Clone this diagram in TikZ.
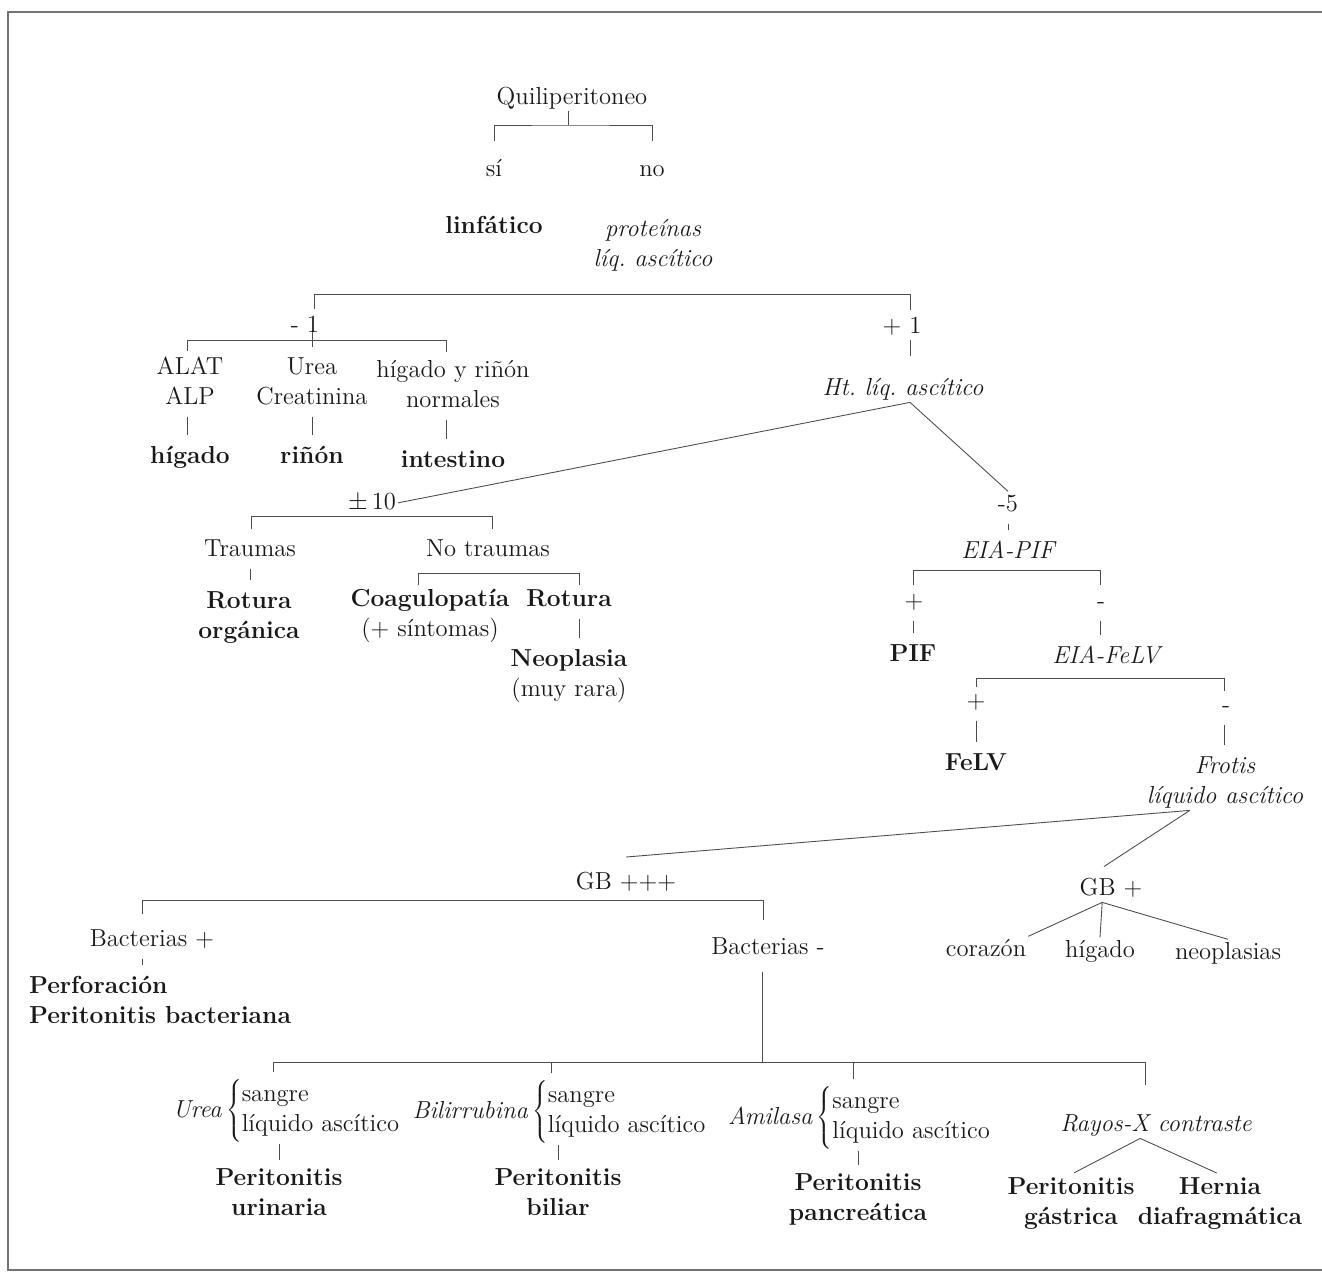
\documentclass[tikz,border=0pt]{standalone}
\usepackage{tikz}

\tikzset{
  txt/.style={anchor=base, inner sep=1pt, align=center, text=black!90,
    font=\fontsize{14}{17}\selectfont\frenchspacing},
  una/.style={text height=10pt, text depth=3pt},
  dos/.style={text height=27pt, text depth=3pt},
  nor/.style={txt, una},
  res/.style={txt, una, font=\fontsize{14}{17}\selectfont\bfseries},
  prb/.style={txt, una, font=\fontsize{14}{17}\selectfont\frenchspacing\itshape},
  rama/.style={draw=black!70, line width=0.5pt},
  tick/.style={rama, shorten <=3pt, shorten >=5pt},
}

\begin{document}
\begin{tikzpicture}[x=0.02cm, y=-0.02cm]
\useasboundingbox (0,0) rectangle (1322,1281);
% marco
\draw[black!55, line width=0.9pt] (1322,12) -- (8,12) -- (8,1270) -- (1322,1270);

% nodos
\node[nor] (q) at (572,104) {Quiliperitoneo};
\node[nor] (si) at (494,176) {sí};
\node[nor] (no) at (652,176) {no};
\node[res] (linf) at (494,233) {linfático};
\node[prb, dos] (prot) at (653,266) {proteínas\\líq. ascítico};
\node[nor] (m1) at (305,332) {- 1};
\node[nor] (p1) at (902,333) {+ 1};
\node[nor, dos] (alat) at (190,404) {ALAT\\ALP};
\node[nor, dos] (urea) at (312,404) {Urea\\Creatinina};
\node[nor, dos] (norm) at (453,407) {hígado y riñón\\normales};
\node[res] (hig) at (190,463) {hígado};
\node[res] (rin) at (312,463) {riñón};
\node[res] (inte) at (453,467) {intestino};
\node[prb] (ht) at (903,395) {Ht. líq. ascítico};
\node[nor] (pm10) at (372,509) {$\pm$\,10};
\node[nor] (m5) at (1008,511) {-5};
\node[nor] (trau) at (250,556) {Traumas};
\node[nor] (notr) at (488,556) {No traumas};
\node[res, dos] (rotorg) at (249,638) {Rotura\\orgánica};
\node[nor, dos] (coag) at (430,636) {\textbf{Coagulopatía}\\(+ síntomas)};
\node[res] (rot) at (569,606) {Rotura};
\node[nor, dos] (neo) at (569,696) {\textbf{Neoplasia}\\(muy rara)};
\node[prb] (eiapif) at (1008,558) {EIA-PIF};
\node[nor] (pos1) at (914,608) {+};
\node[nor] (neg1) at (1101,608) {-};
\node[res] (pif) at (913,661) {PIF};
\node[prb] (eiafelv) at (1106,663) {EIA-FeLV};
\node[nor] (pos2) at (976,708) {+};
\node[nor] (neg2) at (1226,712) {-};
\node[res] (felv) at (976,770) {FeLV};
\node[prb, dos] (frot) at (1225,803) {Frotis\\líquido ascítico};
\node[nor] (gb3) at (626,889) {GB +++};
\node[nor] (gb1) at (1111,895) {GB +};
\node[nor] (bacp) at (152,946) {Bacterias +};
\node[nor] (bacm) at (768,954) {Bacterias -};
\node[res, dos, anchor=base west, align=left] (perf) at (27,1023) {Perforación\\Peritonitis bacteriana};
\node[nor] (cor) at (986,956) {corazón};
\node[nor] (hig2) at (1100,957) {hígado};
\node[nor] (neop) at (1228,959) {neoplasias};
\node[txt] (urea2) at (287,1117) {\textit{Urea}\,$\left\{\begin{tabular}{@{}l@{}}sangre\\líquido ascítico\end{tabular}\right.$};
\node[txt] (bil) at (560,1118) {\textit{Bilirrubina}\,$\left\{\begin{tabular}{@{}l@{}}sangre\\líquido ascítico\end{tabular}\right.$};
\node[txt] (ami) at (860,1124) {\textit{Amilasa}\,$\left\{\begin{tabular}{@{}l@{}}sangre\\líquido ascítico\end{tabular}\right.$};
\node[res, dos] (pu) at (279,1215) {Peritonitis\\urinaria};
\node[res, dos] (pb) at (558,1215) {Peritonitis\\biliar};
\node[res, dos] (pp) at (858,1220) {Peritonitis\\pancreática};
\node[prb] (rx) at (1156,1131) {Rayos-X contraste};
\node[res, dos] (pg) at (1071,1224) {Peritonitis\\gástrica};
\node[res, dos] (hd) at (1220,1224) {Hernia\\diafragmática};

% Quiliperitoneo
\coordinate (bq) at (568,125);
\draw[rama] (q.south -| bq) -- (bq);
\draw[rama, shorten <=9pt, shorten >=9pt] (si.north) |- (bq) -| (no.north);

% proteinas
\coordinate (bb1) at (314,294);
\coordinate (bb2) at (910,294);
\draw[rama, shorten <=2pt, shorten >=2pt] (m1.north -| bb1) |- (bb2) -- (p1.north -| bb2);

% - 1
\coordinate (ba1) at (187,340);
\coordinate (ba3) at (446,340);
\draw[rama, shorten <=2pt, shorten >=3pt] (alat.north -| ba1) |- (ba3) -- (norm.north -| ba3);
\draw[rama, shorten <=-4pt, shorten >=4pt] (m1.south -| urea) -- (urea.north);
\draw[tick] (alat.south -| ba1) -- (hig.north -| ba1);
\draw[tick] (urea.south) -- (urea.south |- rin.north);
\draw[tick] (norm.south -| ba3) -- (inte.north -| ba3);

% + 1
\draw[rama, shorten >=11pt] (p1.south -| bb2) -- (ht.north -| bb2);
\draw[rama] ([xshift=4pt]ht.south) -- (pm10.east);
\draw[rama] ([xshift=4pt]ht.south) -- (m5.north);

% +- 10
\coordinate (bp1) at (251,516);
\coordinate (bp2) at (492,516);
\draw[rama, shorten <=4pt, shorten >=4pt] (trau.north -| bp1) |- (bp2) -- (notr.north -| bp2);
\draw[tick] (trau.south) -- (trau.south |- rotorg.north);
\coordinate (bn1) at (418,573);
\coordinate (bn2) at (579,573);
\draw[rama, shorten <=1pt, shorten >=1pt] (coag.north -| bn1) |- (bn2) -- (rot.north -| bn2);
\draw[tick] (rot.south -| bn2) -- (neo.north -| bn2);

% -5
\draw[tick] (m5.south) -- (m5.south |- eiapif.north);
\coordinate (be1) at (913,570);
\coordinate (be2) at (1100,570);
\draw[rama, shorten <=2pt, shorten >=2pt] (pos1.north -| be1) |- (be2) -- (neg1.north -| be2);
\draw[tick] (pos1.south -| be1) -- (pif.north -| be1);
\draw[tick] (neg1.south -| be2) -- (eiafelv.north -| be2);
\coordinate (bf1) at (976,678);
\coordinate (bf2) at (1224,678);
\draw[rama, shorten <=1pt, shorten >=1pt] (pos2.north -| bf1) |- (bf2) -- (neg2.north -| bf2);
\draw[tick] (pos2.south -| bf1) -- (felv.north -| bf1);
\draw[tick] (neg2.south -| bf2) -- (frot.north -| bf2);

% Frotis
\coordinate (fa) at ([xshift=-20pt]frot.south);
\draw[rama] (fa) -- ([yshift=7pt]gb3.north);
\draw[rama] (fa) -- ([xshift=-4pt,yshift=5pt]gb1.north);

% GB +++
\coordinate (bg1) at (142,900);
\coordinate (bg2) at (763,900);
\draw[rama, shorten <=7pt, shorten >=8pt] (bacp.north -| bg1) |- (bg2) -- (bacm.north -| bg2);
\draw[tick] (bacp.south -| bg1) -- (perf.north -| bg1);

% GB +
\coordinate (ga) at ([xshift=-5pt]gb1.south);
\draw[rama] (ga) -- (cor.north east);
\draw[rama] (ga) -- (hig2.north);
\draw[rama] (ga) -- (neop.north);

% Bacterias -
\coordinate (bu) at (762,1062);
\coordinate (bu1) at (273,1062);
\coordinate (bu2) at (551,1062);
\coordinate (bu3) at (853,1062);
\coordinate (bu4) at (1145,1062);
\draw[rama, shorten <=6pt] (bacm.south -| bu) -- (bu);
\draw[rama, shorten <=3pt] (urea2.north -| bu1) |- (bu4);
\draw[rama, shorten >=3pt] (bu2) -- (bu2 |- bil.north);
\draw[rama, shorten >=3pt] (bu3) -- (bu3 |- ami.north);
\draw[rama, shorten >=15pt] (bu4) -- (rx.north -| bu4);
\draw[rama, shorten <=0pt, shorten >=3pt] (urea2.south -| pu.north) -- (pu.north);
\draw[rama, shorten <=0pt, shorten >=3pt] (bil.south -| pb.north) -- (pb.north);
\draw[rama, shorten <=0pt, shorten >=3pt] (ami.south -| pp.north) -- (pp.north);

% Rayos-X
\coordinate (ra) at ([xshift=-9pt]rx.south);
\draw[rama, shorten >=2pt] (ra) -- (pg.north);
\draw[rama, shorten >=2pt] (ra) -- (hd.north);
\end{tikzpicture}
\end{document}
